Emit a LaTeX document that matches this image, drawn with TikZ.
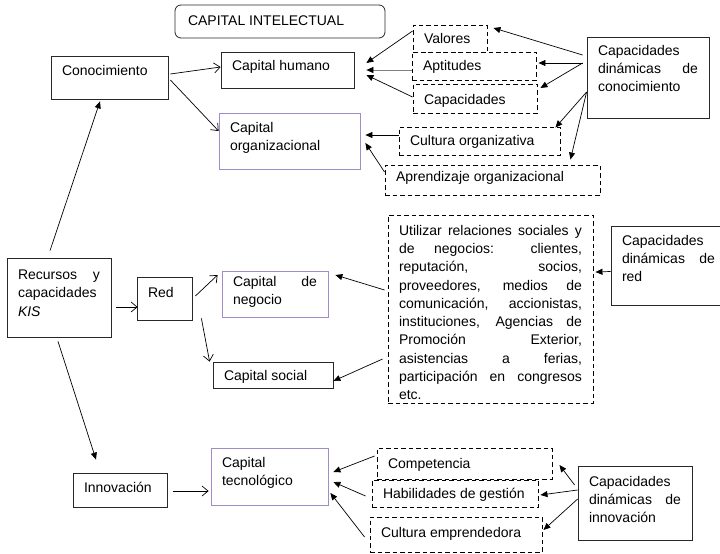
\documentclass[tikz,border=0pt]{standalone}
\usepackage{fontspec}
\setmainfont{Liberation Sans}
\usetikzlibrary{arrows.meta,calc}
\definecolor{lilac}{RGB}{160,140,200}
\definecolor{edge}{RGB}{40,40,40}
\newlength\bxpad
\setlength\bxpad{11pt}
% #1 options, #2 name, #3 x1, #4 y1, #5 x2, #6 y2, #7 top padding, #8 text
\newcommand\bx[8][]{%
  \node[bxs,#1] (#2) at ({(#3+#5)/2},{(#4+#6)/2})
    {\parbox[c][\dimexpr #6pt-#4pt\relax][t]{\dimexpr #5pt-#3pt-2\bxpad\relax}{%
      \tolerance=10000 \hbadness=10000 \hyphenpenalty=10000 \exhyphenpenalty=10000
      \vskip #7pt\relax #8}};}
\tikzset{
  bxs/.style={draw=edge, line width=0.8pt, inner xsep=\bxpad, inner ysep=0pt,
    font=\fontsize{14}{18.3}\selectfont},
  dsh/.style={draw=black, dash pattern=on 4.5pt off 3pt, line width=0.9pt},
  lil/.style={draw=lilac},
  rnd/.style={rounded corners=6pt},
  oa/.style={line width=0.7pt, -{Straight Barb[length=6pt,width=10pt]}},
  fa/.style={line width=0.7pt, -{Triangle[length=7pt,width=6pt,black]}},
}
\begin{document}
\begin{tikzpicture}[x=1pt,y=-1pt]
\useasboundingbox (0,0) rectangle (720,554);
% boxes
\bx[rnd]{ci}{175}{5}{385}{38}{11}{\hspace*{2pt}CAPITAL INTELECTUAL}
\bx{con}{51}{56}{168}{99}{9}{Conocimiento}
\bx{ch}{221}{52}{354}{88}{8}{Capital humano}
\bx[lil]{co}{219}{113}{360}{169}{9}{Capital\\organizacional}
\bx[dsh]{val}{413}{25}{487}{52}{8}{Valores}
\bx[dsh]{apt}{412}{52}{536}{80}{8}{Aptitudes}
\bx[dsh]{cap}{413}{84}{537}{113}{10}{Capacidades}
\bx{cdc}{587}{37}{709}{118}{8}{Capacidades\\dinámicas de\linebreak conocimiento}
\bx[dsh]{cuo}{399}{127}{560}{155}{8}{Cultura organizativa}
\bx[dsh]{apr}{385}{165}{600}{195}{6}{Aprendizaje organizacional}
\bx{rec}{7}{258}{111}{337}{12}{Recursos y\linebreak capacidades\\\textit{KIS}}
\bx{red}{137}{277}{192}{320}{10}{Red}
\bx[lil]{cn}{222}{271}{328}{317}{5}{Capital de\linebreak negocio}
\bx{cs}{213}{362}{333}{388}{8}{Capital social}
\bx[dsh]{big}{388}{215}{593}{403}{10}{Utilizar relaciones sociales y\linebreak
de negocios: clientes,\linebreak
reputación, socios,\linebreak
proveedores, medios de\linebreak
comunicación, accionistas,\linebreak
instituciones, Agencias de\linebreak
Promoción Exterior,\linebreak
asistencias a ferias,\linebreak
participación en congresos\linebreak
etc.}
\bx{cdr}{611}{226}{726}{305}{9}{Capacidades\\dinámicas de\linebreak red}
\bx{inn}{73}{473}{167}{507}{9}{Innovación}
\bx[lil]{ct}{211}{448}{328}{505}{9}{Capital\\tecnológico}
\bx[dsh]{comp}{377}{448}{552}{479}{10}{Competencia}
\bx[dsh]{hab}{372}{480}{538}{507}{8}{Habilidades de gestión}
\bx[dsh]{cem}{370}{517}{542}{552}{10}{Cultura emprendedora}
\bx{cdi}{578}{466}{692}{540}{10}{Capacidades\\dinámicas de\linebreak innovación}
% open arrows
\draw[oa] ($(con.east)+(2,-3.5)$) -- ($(ch.west)+(0,-3)$);
\draw[oa] ($(con.east)+(2,2.5)$) -- ($(co.west)+(0,-10)$);
\draw[oa] ($(rec.east)+(5,9.5)$) -- ($(red.west)+(1,8.5)$);
\draw[oa] ($(red.east)+(3,-2.5)$) -- ($(cn.west)+(-4,-19)$);
\draw[oa] ($(red.south east)+(9,-2)$) -- ($(cs.north west)+(-3,0)$);
\draw[oa] ($(inn.east)+(6,1)$) -- ($(ct.west)+(-2,14.5)$);
% filled arrows
\draw[fa] ($(rec.north)+(-9,-7)$) -- ($(con.south)+(-9.5,2)$);
\draw[fa] ($(rec.south)+(-1,4)$) -- ($(inn.north)+(-24,-13)$);
\draw[fa] ($(val.west)+(0,-7.5)$) -- ($(ch.east)+(12,-7)$);
\draw[fa, draw=gray] ($(apt.west)+(0,4)$) -- ($(ch.east)+(12,0)$);
\draw[fa] ($(cap.west)+(0,-1.5)$) -- ($(ch.east)+(12,5)$);
\draw[fa] ($(cuo.west)+(0,-6)$) -- ($(co.east)+(5,-6)$);
\draw[fa] ($(apr.west)+(0,-8)$) -- ($(co.east)+(5,2)$);
\draw[fa] ($(cdc.west)+(-4,-22.5)$) -- ($(val.east)+(6,-10.5)$);
\draw[fa] ($(cdc.west)+(-4,-14.5)$) -- ($(apt.east)+(2,-3)$);
\draw[fa] ($(cdc.west)+(-4,-14.5)$) -- ($(cap.east)+(3,-10.5)$);
\draw[fa] ($(cdc.west)+(0,14.5)$) -- ($(cuo.north east)+(-5,1)$);
\draw[fa] ($(cdc.west)+(0,14.5)$) -- ($(apr.north east)+(-30,-5)$);
\draw[fa] ($(big.west)+(-3,-19)$) -- ($(cn.east)+(7,-19)$);
\draw[fa] ($(big.west)+(-5,50)$) -- ($(cs.east)+(0,6)$);
\draw[fa] ($(cdr.west)+(0,6)$) -- ($(big.east)+(2,-37)$);
\draw[fa] ($(comp.west)+(-2,-7.5)$) -- ($(ct.east)+(5,-4.5)$);
\draw[fa] ($(hab.west)+(-6,2.5)$) -- ($(ct.east)+(5,5.5)$);
\draw[fa] ($(cem.west)+(-5,2.5)$) -- ($(ct.east)+(2,16.5)$);
\draw[fa] ($(cdi.west)+(-3,-18)$) -- ($(comp.east)+(7,1.5)$);
\draw[fa] ($(cdi.west)+(0,-13)$) -- ($(hab.east)+(2,1.5)$);
\draw[fa] ($(cdi.west)+(0,-4)$) -- ($(cem.east)+(1,-4.5)$);
\end{tikzpicture}
\end{document}
